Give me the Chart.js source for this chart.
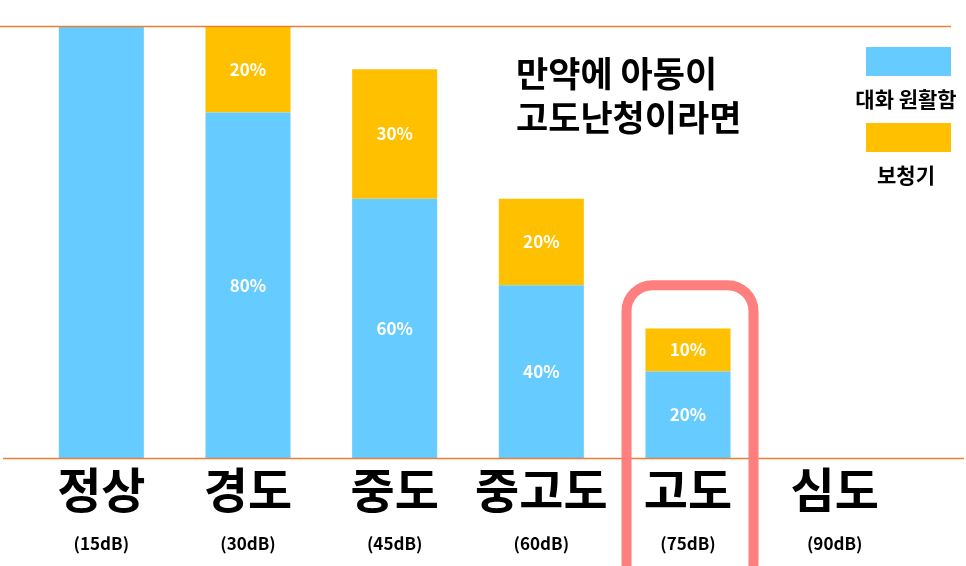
<!DOCTYPE html>
<html>
<head>
<meta charset="utf-8">
<script src="https://cdn.jsdelivr.net/npm/chart.js@4.4.1/dist/chart.umd.min.js"></script>
<style>
  html, body { margin:0; padding:0; background:#fff; }
  #wrap { width:966px; height:566px; position:relative; }
</style>
</head>
<body>
<div id="wrap"><canvas id="c" width="966" height="566"></canvas></div>
<script>
const categories = ['정상', '경도', '중도', '중고도', '고도', '심도'];
const dbLabels = ['(15dB)', '(30dB)', '(45dB)', '(60dB)', '(75dB)', '(90dB)'];
const seriesNames = ['대화 원활함', '보청기'];
const conversation = [100, 80, 60, 40, 20, 0];
const hearingAid = [0, 20, 30, 20, 10, 0];
const conversationLabels = ['', '80%', '60%', '40%', '20%', ''];
const hearingAidLabels = ['', '20%', '30%', '20%', '10%', ''];
const titleLines = ['만약에 아동이', '고도난청이라면'];
const highlightCategory = '고도';

const FONT = '"Noto Sans CJK KR", "Noto Sans", sans-serif';
const BLUE = '#66CCFF';
const YELLOW = '#FFC000';
const ORANGE = '#ED7D31';
const RED = '#FF7F7F';

const overlay = {
  id: 'overlay',
  afterDatasetsDraw(chart) {
    const ctx = chart.ctx;
    const x = chart.scales.x, y = chart.scales.y;
    ctx.save();
    ctx.strokeStyle = ORANGE;
    ctx.lineWidth = 1.5;
    [[100, 0, 951], [0, 3, 964]].forEach(([v, x0, x1]) => {
      const py = Math.round(y.getPixelForValue(v)) + 0.5;
      ctx.beginPath(); ctx.moveTo(x0, py); ctx.lineTo(x1, py); ctx.stroke();
    });
    ctx.restore();
    ctx.save();
    ctx.fillStyle = '#fff';
    ctx.font = 'bold 17px ' + FONT;
    ctx.textAlign = 'center';
    ctx.textBaseline = 'middle';
    const labelSets = [conversationLabels, hearingAidLabels];
    chart.data.datasets.forEach((ds, di) => {
      const meta = chart.getDatasetMeta(di);
      meta.data.forEach((bar, i) => {
        const t = labelSets[di][i];
        if (!t) return;
        const cy = (bar.y + bar.base) / 2;
        ctx.fillText(t, bar.x, cy);
      });
    });
    ctx.restore();
  },
  afterDraw(chart) {
    const ctx = chart.ctx;
    const x = chart.scales.x, y = chart.scales.y;
    const idx = categories.indexOf(highlightCategory);
    const cx = x.getPixelForValue(idx) + 2;
    const top = y.getPixelForValue(40);
    const w = 127, r = 26;
    const left = cx - w / 2, right = cx + w / 2, bottom = 590;
    ctx.save();
    ctx.strokeStyle = RED;
    ctx.lineWidth = 10;
    ctx.beginPath();
    ctx.roundRect(left, top, right - left, bottom - top, r);
    ctx.stroke();
    ctx.restore();
    ctx.save();
    ctx.fillStyle = '#000';
    ctx.font = 'bold 35px ' + FONT;
    ctx.textAlign = 'left';
    ctx.textBaseline = 'middle';
    ctx.fillText(titleLines[0], 516, 74);
    ctx.fillText(titleLines[1], 516, 118);
    ctx.restore();
    ctx.save();
    const colors = [BLUE, YELLOW];
    const boxes = [47, 123];
    const texts = [99, 175];
    ctx.font = 'bold 21px ' + FONT;
    ctx.textAlign = 'center';
    ctx.textBaseline = 'middle';
    seriesNames.forEach((n, i) => {
      ctx.fillStyle = colors[i];
      ctx.fillRect(866, boxes[i], 85, 29);
      ctx.fillStyle = '#000';
      ctx.fillText(n, 906, texts[i]);
    });
    ctx.restore();
  }
};

new Chart(document.getElementById('c'), {
  type: 'bar',
  data: {
    labels: categories,
    datasets: [
      { label: seriesNames[0], data: conversation, backgroundColor: BLUE, borderWidth: 0,
        categoryPercentage: 1, barPercentage: 0.58 },
      { label: seriesNames[1], data: hearingAid, backgroundColor: YELLOW, borderWidth: 0,
        categoryPercentage: 1, barPercentage: 0.58 }
    ]
  },
  options: {
    responsive: false,
    animation: false,
    devicePixelRatio: 1,
    layout: { padding: { left: 28, right: 58, top: 26, bottom: 0 } },
    plugins: { legend: { display: false }, tooltip: { enabled: false }, title: { display: false } },
    scales: {
      y: { stacked: true, min: 0, max: 100, display: false },
      x: {
        stacked: true,
        position: 'bottom',
        grid: { display: false, drawTicks: false },
        border: { display: false },
        ticks: { color: '#000', padding: 3, maxRotation: 0, autoSkip: false,
                 font: { family: FONT, size: 48, weight: 'bold' } }
      },
      x2: {
        type: 'category',
        labels: dbLabels,
        position: 'bottom',
        offset: true,
        grid: { display: false, drawTicks: false },
        border: { display: false },
        ticks: { color: '#000', padding: 12, maxRotation: 0, autoSkip: false,
                 font: { family: FONT, size: 17, weight: 'bold' } }
      }
    }
  },
  plugins: [overlay]
});
</script>
</body>
</html>
